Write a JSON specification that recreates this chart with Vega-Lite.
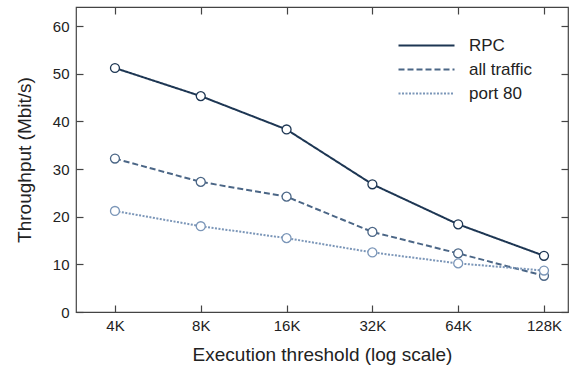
{
  "$schema": "https://vega.github.io/schema/vega-lite/v6.json",
  "width": 492,
  "height": 305,
  "autosize": {"type": "none"},
  "padding": {"left": 76, "top": 7, "right": 7, "bottom": 59},
  "background": "white",
  "config": {
    "font": "Liberation Sans",
    "view": {"stroke": "#444", "strokeWidth": 1.2},
    "axis": {"grid": false, "domain": false, "ticks": true, "tickColor": "#444", "tickWidth": 1.2, "labelColor": "#222", "titleColor": "#222", "labelFont": "Liberation Sans", "titleFont": "Liberation Sans", "labelFontSize": 15, "titleFontSize": 19, "titleFontWeight": "normal"},
    "legend": {"labelFont": "Liberation Sans"}
  },
  "data": {"values": [
    {"k": 4, "v": 51.2, "s": "RPC"},
    {"k": 8, "v": 45.3, "s": "RPC"},
    {"k": 16, "v": 38.3, "s": "RPC"},
    {"k": 32, "v": 26.8, "s": "RPC"},
    {"k": 64, "v": 18.4, "s": "RPC"},
    {"k": 128, "v": 11.8, "s": "RPC"},
    {"k": 4, "v": 32.2, "s": "all traffic"},
    {"k": 8, "v": 27.3, "s": "all traffic"},
    {"k": 16, "v": 24.2, "s": "all traffic"},
    {"k": 32, "v": 16.8, "s": "all traffic"},
    {"k": 64, "v": 12.3, "s": "all traffic"},
    {"k": 128, "v": 7.6, "s": "all traffic"},
    {"k": 4, "v": 21.2, "s": "port 80"},
    {"k": 8, "v": 18.0, "s": "port 80"},
    {"k": 16, "v": 15.5, "s": "port 80"},
    {"k": 32, "v": 12.5, "s": "port 80"},
    {"k": 64, "v": 10.2, "s": "port 80"},
    {"k": 128, "v": 8.7, "s": "port 80"}
  ]},
  "layer": [
    {
      "mark": {"type": "line", "strokeWidth": 2},
      "encoding": {
        "x": {"field": "k", "type": "quantitative",
          "scale": {"type": "log", "base": 2, "domain": [2.92, 155.4], "nice": false},
          "axis": {"orient": "bottom", "values": [4, 8, 16, 32, 64, 128], "labelExpr": "datum.value + 'K'", "offset": -7, "tickSize": 7, "labelPadding": 6, "title": "Execution threshold (log scale)", "titlePadding": 12}},
        "y": {"field": "v", "type": "quantitative",
          "scale": {"domain": [0, 64], "nice": false},
          "axis": {"orient": "left", "values": [0, 10, 20, 30, 40, 50, 60], "offset": -7, "tickSize": 7, "labelPadding": 7, "title": "Throughput (Mbit/s)", "titlePadding": 18}},
        "color": {"field": "s", "type": "nominal",
          "scale": {"domain": ["RPC", "all traffic", "port 80"], "range": ["#1d3653", "#4b6686", "#7b96b8"]},
          "legend": {"title": null, "orient": "none", "legendX": 342, "legendY": 30, "symbolType": "M-4,0H4", "symbolSize": 196, "symbolStrokeWidth": 2, "labelFontSize": 17, "labelColor": "#222", "labelOffset": 34, "rowPadding": 6}},
        "strokeDash": {"field": "s", "type": "nominal",
          "scale": {"domain": ["RPC", "all traffic", "port 80"], "range": [[1, 0], [6, 3], [2, 1.5]]},
          "legend": {"title": null, "orient": "none", "legendX": 342, "legendY": 30, "symbolType": "M-4,0H4", "symbolSize": 196, "symbolStrokeWidth": 2, "labelFontSize": 17, "labelColor": "#222", "labelOffset": 34, "rowPadding": 6}}
      }
    },
    {
      "mark": {"type": "point", "filled": true, "fill": "white", "size": 80, "strokeWidth": 1.3, "opacity": 1},
      "encoding": {
        "x": {"field": "k", "type": "quantitative",
          "axis": {"orient": "top", "values": [4, 8, 16, 32, 64, 128], "labels": false, "offset": -7, "tickSize": 7, "title": null}},
        "y": {"field": "v", "type": "quantitative",
          "axis": {"orient": "right", "values": [0, 10, 20, 30, 40, 50, 60], "labels": false, "offset": -7, "tickSize": 7, "title": null}},
        "stroke": {"field": "s", "type": "nominal",
          "scale": {"domain": ["RPC", "all traffic", "port 80"], "range": ["#1d3653", "#4b6686", "#7b96b8"]},
          "legend": null}
      }
    }
  ]
}
